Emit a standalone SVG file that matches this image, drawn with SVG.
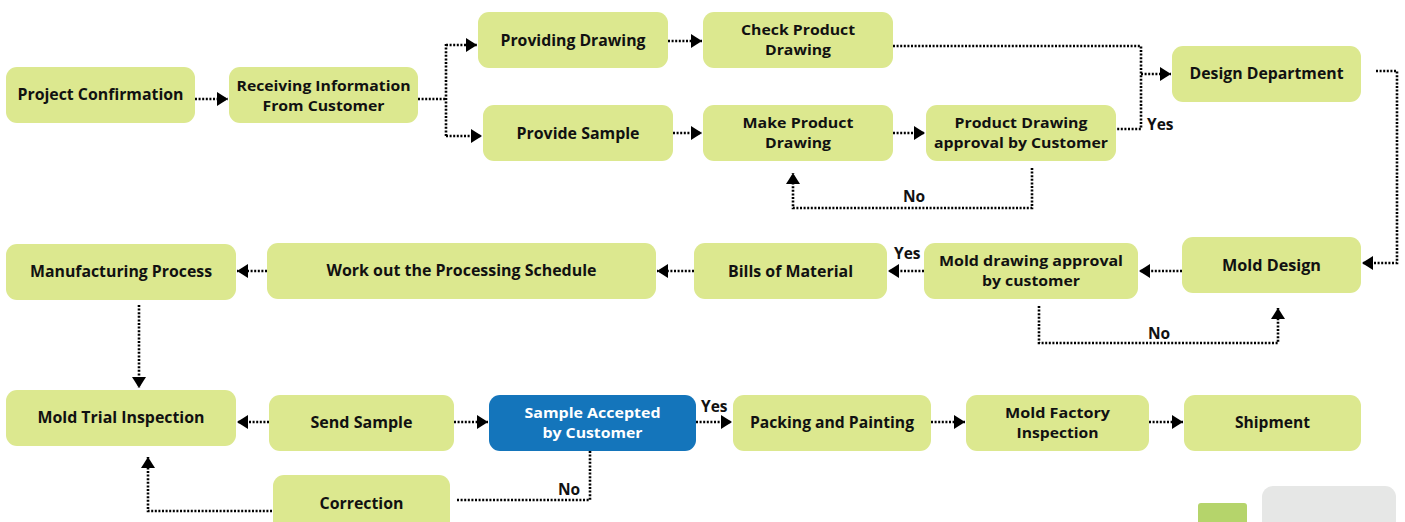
<svg xmlns="http://www.w3.org/2000/svg" width="1405" height="522" viewBox="0 0 1405 522">
<defs>
<style>
.n{fill:#DCE88F}
.b{fill:#1475BB}
.t{font-family:"Open Sans","Liberation Sans",sans-serif;font-weight:700;font-size:16px;fill:#111;text-anchor:middle}
.t2{font-size:14.5px}
.w{fill:#FFFFFF}
.l{font-family:"Open Sans","Liberation Sans",sans-serif;font-weight:700;font-size:15.5px;fill:#111}
.c{fill:none;stroke:#000;stroke-width:2.6;stroke-dasharray:2 1.6}
.a{marker-end:url(#ah)}
</style>
<marker id="ah" markerUnits="userSpaceOnUse" markerWidth="12" markerHeight="14" refX="11" refY="7" orient="auto">
<path d="M0,0 L11,7 L0,14 Z" fill="#000"/>
</marker>
</defs>
<rect width="1405" height="522" fill="#FFFFFF"/>

<g id="connectors">
<path class="c a" d="M195,99 H228"/>
<path class="c" d="M418,99 H446 M446,44 V137"/>
<path class="c a" d="M446,45 H477"/>
<path class="c a" d="M446,136 H482"/>
<path class="c a" d="M668,41 H702"/>
<path class="c a" d="M673,133 H702"/>
<path class="c a" d="M893,133 H925"/>
<path class="c" d="M893,46 H1141 V129 H1116"/>
<path class="c a" d="M1141,74 H1171"/>
<path class="c a" d="M1032,168 V208 H793 V173"/>
<path class="c a" d="M1376,71 H1397 V263 H1362"/>
<path class="c a" d="M1182,271 H1139"/>
<path class="c a" d="M924,271 H888"/>
<path class="c a" d="M1039,306 V343 H1278 V308"/>
<path class="c a" d="M694,271 H657"/>
<path class="c a" d="M267,271 H237"/>
<path class="c a" d="M139,305 V388"/>
<path class="c a" d="M269,422 H237"/>
<path class="c a" d="M454,422 H488"/>
<path class="c a" d="M696,422 H732"/>
<path class="c a" d="M931,422 H965"/>
<path class="c a" d="M1149,422 H1183"/>
<path class="c" d="M590,451 V500 H457"/>
<path class="c a" d="M272,511 H148 V457"/>
<text class="l" x="1147" y="130">Yes</text>
<text class="l" x="903" y="202">No</text>
<text class="l" x="894" y="259">Yes</text>
<text class="l" x="1148" y="339">No</text>
<text class="l" x="701" y="412">Yes</text>
<text class="l" x="558" y="495">No</text>
</g>

<g id="n-project-confirmation"><rect class="n" x="6" y="67" width="189" height="56" rx="11"/>
<text class="t" x="100.5" y="100" textLength="166" lengthAdjust="spacingAndGlyphs">Project Confirmation</text></g>

<g id="n-receiving"><rect class="n" x="229" y="67" width="189" height="56" rx="11"/>
<text class="t t2"><tspan x="323.5" y="91" textLength="174" lengthAdjust="spacingAndGlyphs">Receiving Information</tspan><tspan x="323.5" y="111" textLength="122" lengthAdjust="spacingAndGlyphs">From Customer</tspan></text></g>

<g id="n-providing-drawing"><rect class="n" x="478" y="12" width="190" height="56" rx="11"/>
<text class="t" x="573" y="46" textLength="145" lengthAdjust="spacingAndGlyphs">Providing Drawing</text></g>

<g id="n-check-product"><rect class="n" x="703" y="12" width="190" height="56" rx="11"/>
<text class="t t2"><tspan x="798" y="35" textLength="114" lengthAdjust="spacingAndGlyphs">Check Product</tspan><tspan x="798" y="55" textLength="66" lengthAdjust="spacingAndGlyphs">Drawing</tspan></text></g>

<g id="n-provide-sample"><rect class="n" x="483" y="105" width="190" height="56" rx="11"/>
<text class="t" x="578" y="139" textLength="123" lengthAdjust="spacingAndGlyphs">Provide Sample</text></g>

<g id="n-make-product"><rect class="n" x="703" y="105" width="190" height="56" rx="11"/>
<text class="t t2"><tspan x="798" y="128" textLength="111" lengthAdjust="spacingAndGlyphs">Make Product</tspan><tspan x="798" y="148" textLength="66" lengthAdjust="spacingAndGlyphs">Drawing</tspan></text></g>

<g id="n-pd-approval"><rect class="n" x="926" y="105" width="190" height="56" rx="11"/>
<text class="t t2"><tspan x="1021" y="128" textLength="133" lengthAdjust="spacingAndGlyphs">Product Drawing</tspan><tspan x="1021" y="148" textLength="174" lengthAdjust="spacingAndGlyphs">approval by Customer</tspan></text></g>

<g id="n-design-department"><rect class="n" x="1172" y="46" width="189" height="56" rx="11"/>
<text class="t" x="1266.5" y="79" textLength="154" lengthAdjust="spacingAndGlyphs">Design Department</text></g>

<g id="n-mold-design"><rect class="n" x="1182" y="237" width="179" height="56" rx="11"/>
<text class="t" x="1271.5" y="271" textLength="99" lengthAdjust="spacingAndGlyphs">Mold Design</text></g>

<g id="n-mold-drawing-approval"><rect class="n" x="924" y="243" width="214" height="56" rx="11"/>
<text class="t t2"><tspan x="1031" y="266" textLength="184" lengthAdjust="spacingAndGlyphs">Mold drawing approval</tspan><tspan x="1031" y="286" textLength="98" lengthAdjust="spacingAndGlyphs">by customer</tspan></text></g>

<g id="n-bills"><rect class="n" x="694" y="243" width="193" height="56" rx="11"/>
<text class="t" x="790.5" y="277" textLength="125" lengthAdjust="spacingAndGlyphs">Bills of Material</text></g>

<g id="n-work-out"><rect class="n" x="267" y="243" width="389" height="56" rx="11"/>
<text class="t" x="461.5" y="276" textLength="270" lengthAdjust="spacingAndGlyphs">Work out the Processing Schedule</text></g>

<g id="n-manufacturing"><rect class="n" x="6" y="244" width="230" height="56" rx="11"/>
<text class="t" x="121" y="277" textLength="182" lengthAdjust="spacingAndGlyphs">Manufacturing Process</text></g>

<g id="n-mold-trial"><rect class="n" x="6" y="390" width="230" height="56" rx="11"/>
<text class="t" x="121" y="423" textLength="167" lengthAdjust="spacingAndGlyphs">Mold Trial Inspection</text></g>

<g id="n-send-sample"><rect class="n" x="269" y="395" width="185" height="56" rx="11"/>
<text class="t" x="361.5" y="428" textLength="102" lengthAdjust="spacingAndGlyphs">Send Sample</text></g>

<g id="n-sample-accepted"><rect class="b" x="489" y="395" width="207" height="56" rx="11"/>
<text class="t t2 w"><tspan x="592.5" y="418" textLength="136" lengthAdjust="spacingAndGlyphs">Sample Accepted</tspan><tspan x="592.5" y="438" textLength="100" lengthAdjust="spacingAndGlyphs">by Customer</tspan></text></g>

<g id="n-packing"><rect class="n" x="733" y="395" width="198" height="56" rx="11"/>
<text class="t" x="832" y="428" textLength="164" lengthAdjust="spacingAndGlyphs">Packing and Painting</text></g>

<g id="n-mold-factory"><rect class="n" x="966" y="395" width="183" height="56" rx="11"/>
<text class="t t2"><tspan x="1057.5" y="418" textLength="105" lengthAdjust="spacingAndGlyphs">Mold Factory</tspan><tspan x="1057.5" y="438" textLength="82" lengthAdjust="spacingAndGlyphs">Inspection</tspan></text></g>

<g id="n-shipment"><rect class="n" x="1184" y="395" width="177" height="56" rx="11"/>
<text class="t" x="1272.5" y="428" textLength="75" lengthAdjust="spacingAndGlyphs">Shipment</text></g>

<g id="n-correction"><rect class="n" x="273" y="475" width="177" height="62" rx="11"/>
<text class="t" x="361.5" y="509" textLength="84" lengthAdjust="spacingAndGlyphs">Correction</text></g>

<g id="decor">
<rect x="1198" y="503" width="49" height="30" rx="3" fill="#B5D46B"/>
<rect x="1262" y="486" width="134" height="50" rx="11" fill="#E6E7E6"/>
</g>
</svg>
